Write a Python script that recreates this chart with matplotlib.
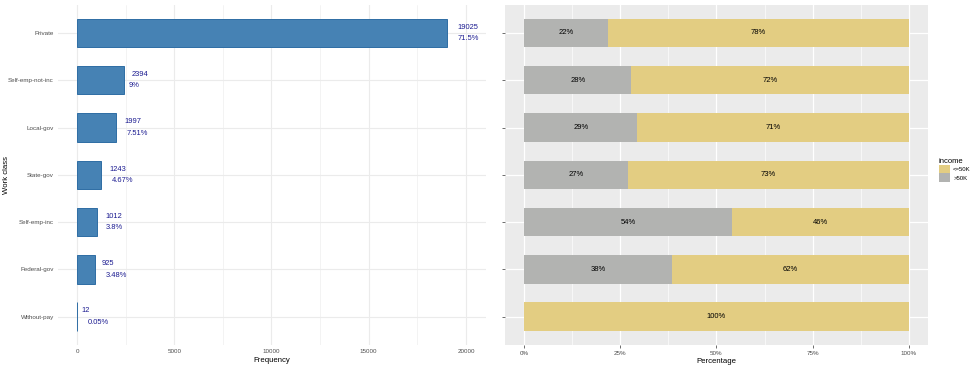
import numpy as np
import matplotlib
matplotlib.use("Agg")
import matplotlib.pyplot as plt

plt.rcParams['font.family'] = ['Liberation Sans', 'DejaVu Sans']

# data
work_class = ['Private', 'Self-emp-not-inc', 'Local-gov', 'State-gov',
              'Self-emp-inc', 'Federal-gov', 'Without-pay']
counts = [19025, 2394, 1997, 1243, 1012, 925, 12]
count_pct = [71.5, 9.0, 7.51, 4.67, 3.8, 3.48, 0.05]
share_over_50k = [0.219, 0.279, 0.294, 0.270, 0.540, 0.384, 0.0]
income_levels = ['<=50K', '>50K']
pct_ticks = [0, 0.25, 0.5, 0.75, 1.0]
pct_tick_labels = ['0%', '25%', '50%', '75%', '100%']
freq_ticks = [0, 5000, 10000, 15000, 20000]

over = np.array(share_over_50k)
under = 1 - over
ypos = np.arange(len(work_class))

fig = plt.figure(figsize=(9.8, 3.68), dpi=100)
ax1 = fig.add_axes([0.0592, 0.0625, 0.4367, 0.925])
ax2 = fig.add_axes([0.5153, 0.0625, 0.4316, 0.925])

tick_col = '#4d4d4d'
grid_col = '#ebebeb'
tick_fs = 4.5
lab_fs = 5.6

# ---- left: frequency bars
ax1.barh(ypos, counts, height=0.6, color='#4682B4', edgecolor='#2E6DA4', linewidth=0.7, zorder=2)
ax1.set_xlim(-977, 21030)
ax1.set_ylim(len(work_class) - 0.4, -0.6)
ax1.set_yticks(ypos)
ax1.set_yticklabels(work_class)
ax1.set_xticks(freq_ticks)
ax1.set_xticklabels([str(v) for v in freq_ticks])
ax1.set_xticks([2500, 7500, 12500, 17500], minor=True)
ax1.grid(True, which='major', color=grid_col, linewidth=0.8, zorder=0)
ax1.grid(True, which='minor', axis='x', color=grid_col, linewidth=0.4, zorder=0)
ax1.set_axisbelow(True)
for s in ax1.spines.values():
    s.set_visible(False)
ax1.tick_params(which='both', length=0, labelsize=tick_fs, labelcolor=tick_col, pad=3)
ax1.set_xlabel('Frequency', fontsize=lab_fs, labelpad=2)
ax1.set_ylabel('Work class', fontsize=lab_fs)
ax1.yaxis.set_label_coords(-0.113, 0.5)

labels = []
for i in range(len(work_class)):
    t1 = ax1.text(counts[i], ypos[i] - 0.12, str(counts[i]), ha='left', va='center',
                  fontsize=5.4, color='#1A1A90')
    t2 = ax1.text(counts[i], ypos[i] + 0.12, '{:g}%'.format(count_pct[i]), ha='left', va='center',
                  fontsize=5.4, color='#1A1A90')
    labels.append(t1)
    labels.append(t2)

# ---- right: income share
ax2.set_facecolor('#ebebeb')
ax2.barh(ypos, over, height=0.6, color='#B2B3B1', zorder=2, label='>50K')
ax2.barh(ypos, under, left=over, height=0.6, color='#E3CD82', zorder=2, label='<=50K')
for i in range(len(work_class)):
    if over[i] > 0:
        ax2.text(over[i] / 2, ypos[i], '{:.0f}%'.format(over[i] * 100), ha='center', va='center',
                 fontsize=5.5, color='black', zorder=3)
    if under[i] > 0:
        ax2.text(over[i] + under[i] / 2, ypos[i], '{:.0f}%'.format(under[i] * 100), ha='center',
                 va='center', fontsize=5.5, color='black', zorder=3)
ax2.set_xlim(-0.05, 1.05)
ax2.set_ylim(len(work_class) - 0.4, -0.6)
ax2.set_xticks(pct_ticks)
ax2.set_xticklabels(pct_tick_labels)
ax2.set_xticks([0.125, 0.375, 0.625, 0.875], minor=True)
ax2.set_yticks(ypos)
ax2.set_yticklabels([''] * len(ypos))
ax2.grid(True, which='major', color='white', linewidth=0.9, zorder=0)
ax2.grid(True, which='minor', axis='x', color='white', linewidth=0.45, zorder=0)
ax2.set_axisbelow(True)
for s in ax2.spines.values():
    s.set_visible(False)
ax2.tick_params(which='major', length=2, width=0.5, color='#333333', labelsize=tick_fs,
                labelcolor=tick_col, pad=2)
ax2.tick_params(which='minor', length=0)
ax2.set_xlabel('Percentage', fontsize=lab_fs, labelpad=2)

h, l = ax2.get_legend_handles_labels()
leg = fig.legend([h[1], h[0]], income_levels, loc='upper left', bbox_to_anchor=(0.958, 0.572),
                 title='income', fontsize=4.3, title_fontsize=5.5, frameon=False,
                 handlelength=1.9, handleheight=1.9, handletextpad=0.5, labelspacing=0.0,
                 borderaxespad=0, borderpad=0)
leg._legend_box.align = 'left'

# shift the count labels right by half their width (like hjust = -0.5)
fig.canvas.draw()
r = fig.canvas.get_renderer()
px_per_unit = ax1.transData.transform((1, 0))[0] - ax1.transData.transform((0, 0))[0]
for t in labels:
    w = t.get_window_extent(renderer=r).width
    x, y = t.get_position()
    t.set_position((x + 0.5 * w / px_per_unit, y))

fig.savefig('out.png', dpi=100)
